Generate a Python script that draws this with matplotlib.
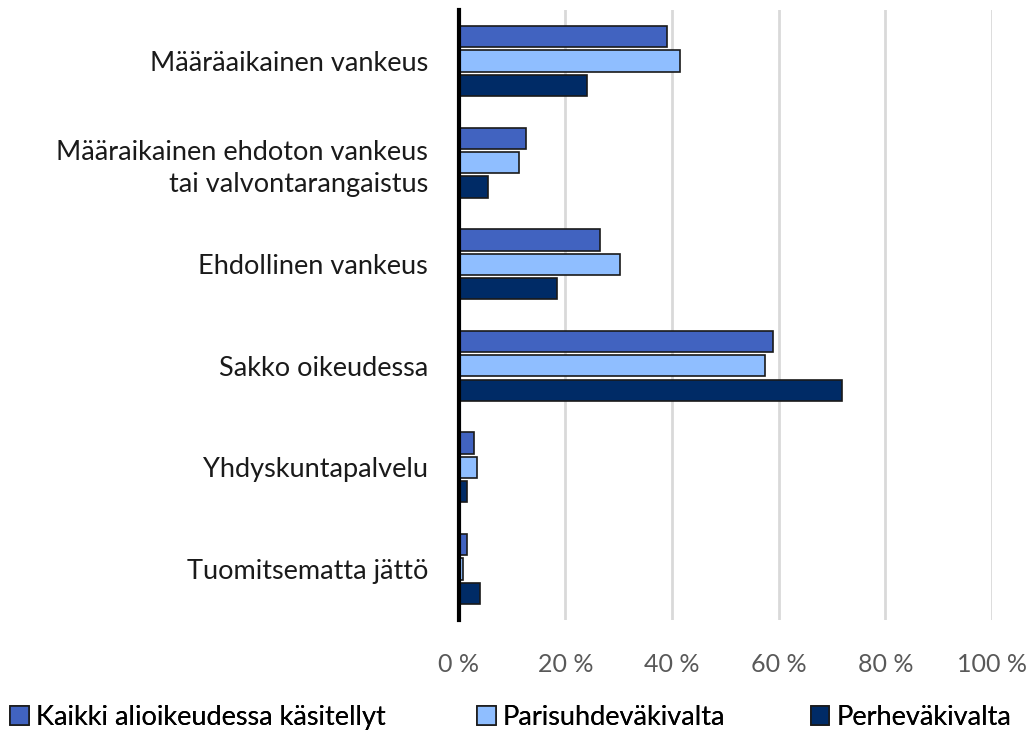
import matplotlib.pyplot as plt
import numpy as np

plt.rcParams['font.family'] = ['Lato', 'DejaVu Sans']

categories = [
    "Määräaikainen vankeus",
    "Määraikainen ehdoton vankeus\ntai valvontarangaistus",
    "Ehdollinen vankeus",
    "Sakko oikeudessa",
    "Yhdyskuntapalvelu",
    "Tuomitsematta jättö",
]
series_names = ["Kaikki alioikeudessa käsitellyt", "Parisuhdeväkivalta", "Perheväkivalta"]
kaikki = [39.0, 12.6, 26.5, 59.0, 2.9, 1.6]
parisuhde = [41.5, 11.4, 30.3, 57.5, 3.5, 0.8]
perhe = [24.1, 5.6, 18.5, 71.9, 1.6, 4.0]
xticks = [0, 20, 40, 60, 80, 100]
colors = ["#4163C0", "#8FBEFF", "#002B66"]

fig = plt.figure(figsize=(10.26, 7.36), dpi=100)
ax = fig.add_axes([0.447, 0.158, 0.52, 0.828])

y = np.arange(len(categories))
bar_h = 0.21
step = 0.24
bars = []
for i, (vals, name, col) in enumerate(zip([kaikki, parisuhde, perhe], series_names, colors)):
    b = ax.barh(y + (i - 1) * step, vals, height=bar_h, color=col, edgecolor="#1a1a1a",
                linewidth=1.2, label=name, zorder=3)
    bars.append(b)

ax.set_xlim(0, 100)
ax.set_ylim(5.5, -0.5)
ax.set_xticks(xticks)
ax.set_xticklabels([f"{t} %" for t in xticks], fontsize=18, color="#595959")
ax.set_yticks(y)
ax.set_yticklabels(categories, fontsize=19.5, color="#1a1a1a", multialignment="right",
                   linespacing=1.35)
ax.tick_params(axis="both", length=0)
ax.tick_params(axis="x", pad=24)
ax.tick_params(axis="y", pad=22)
ax.grid(axis="x", color="#d9d9d9", linewidth=2, zorder=0)
for s in ["top", "right", "bottom"]:
    ax.spines[s].set_visible(False)
ax.spines["left"].set_linewidth(3)
ax.spines["left"].set_color("black")
ax.spines["left"].set_zorder(4)

# legend entries placed one by one, like the original
leg_x = [0.010, 0.465, 0.790]
for b, name, lx in zip(bars, series_names, leg_x):
    leg = fig.legend([b], [name], loc="lower left", bbox_to_anchor=(lx, 0.008),
                     frameon=False, fontsize=19.5, handlelength=0.7, handleheight=0.7,
                     handletextpad=0.25, borderpad=0, borderaxespad=0)
    fig.add_artist(leg)

fig.savefig("out.png", dpi=100)
